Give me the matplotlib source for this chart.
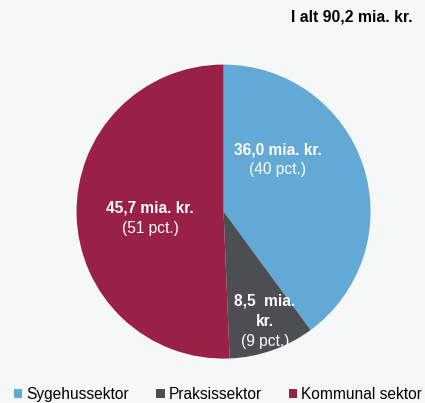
import matplotlib
matplotlib.use("Agg")
import matplotlib.pyplot as plt
from matplotlib.patches import Patch

# data
sectors = ["Sygehussektor", "Praksissektor", "Kommunal sektor"]
amounts = [36.0, 8.5, 45.7]
amount_labels = [["36,0 mia. kr."], ["8,5  mia.", "kr."], ["45,7 mia. kr."]]
pct_labels = ["(40 pct.)", "(9 pct.)", "(51 pct.)"]
total_label = "I alt 90,2 mia. kr."

colors = ["#62a9d6", "#4c4e54", "#9a2146"]
bg = "#f6f8f8"

plt.rcParams["font.family"] = ["Liberation Sans", "DejaVu Sans"]

fig = plt.figure(figsize=(4.25, 4.03), dpi=100, facecolor=bg)
ax = fig.add_axes([0.526 - 0.346, 0.475 - 0.3648, 0.692, 0.7296])
ax.set_facecolor(bg)

wedges, _ = ax.pie(amounts, colors=colors, startangle=90, counterclock=False,
                   radius=1, wedgeprops=dict(linewidth=0))
ax.set_xlim(-1, 1)
ax.set_ylim(-1, 1)
ax.set_aspect("equal")
ax.axis("off")

# label anchor (x, y of first line) in pie units, line step
label_pos = [(0.37, 0.42), (0.28, -0.61), (-0.50, 0.024)]
step = 0.136
for (x, y), amt, pct in zip(label_pos, amount_labels, pct_labels):
    for i, line in enumerate(amt):
        ax.text(x, y - i * step, line, color="white", fontsize=11.2,
                fontweight="bold", ha="center", va="center")
    ax.text(x, y - len(amt) * step, pct, color="white", fontsize=11.2,
            ha="center", va="center")

fig.text(0.97, 0.958, total_label, fontsize=11.3, fontweight="bold",
         ha="right", va="center")

handles = [Patch(facecolor=c, edgecolor="none") for c in colors]
fig.legend(handles, sectors, loc="lower center", bbox_to_anchor=(0.513, -0.032),
           ncol=3, frameon=False, fontsize=11.2, handlelength=0.55,
           handleheight=0.55, handletextpad=0.25, columnspacing=1.75)

fig.savefig("out.png", dpi=100, facecolor=bg)
